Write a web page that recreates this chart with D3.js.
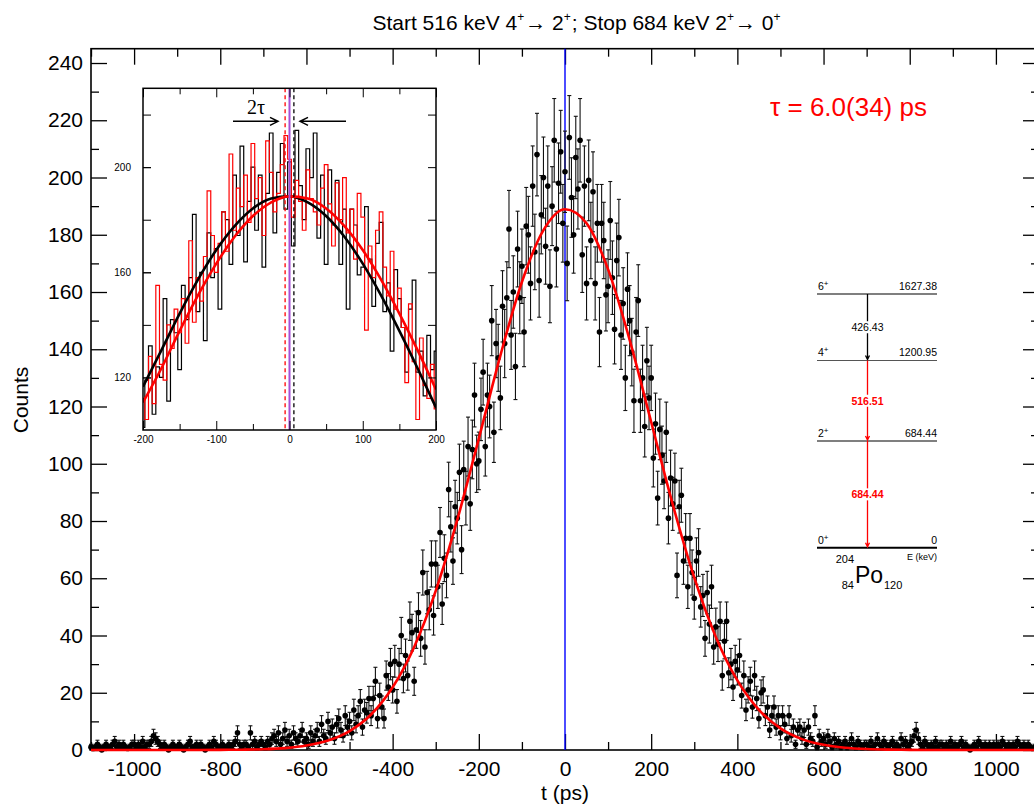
<!DOCTYPE html>
<html>
<head>
<meta charset="utf-8">
<script src="https://cdn.jsdelivr.net/npm/d3@7"></script>
<style>
  body { margin: 0; background: #fff; }
  svg { display: block; font-family: 'Liberation Sans', Arial, sans-serif; }
</style>
</head>
<body>
<div class="chart"></div>
<script>
const svgWidth = 1034,
  svgHeight = 807;

// time spectrum, 5 ps bins starting at -1100 ps
const tStart = -1100,
  binWidth = 5;

const counts = [
  1,0.5,1,2,1,0,1,2,1,1,2,3,1,2,1,2,1,0.5,1,2,
  2,1,2,1,3,1,2,2,3,5,4,3,2,1,2,1,0,1,2,1,
  1,2,1,0,1,2,3,1,1,2,1,2,1,0,1,2,1,3,2,1,
  1,2,1,1,2,1,2,3,6,2,1,2,2,1,6,2,3,1,2,3,
  2,1,3,2,4,5,3,6,2,4,7,3,5,2,6,4,3,5,7,3,
  4,2,6,3,5,7,3,9,5,4,10,6,8,4,9,11,7,5,12,8,
  10,6,14,9,12,17,8,14,13,18,12,18,24,11,19,15,11,26,22,30,
  21,31,17,30,40,25,33,26,45,41,24,42,48,39,62,36,55,49,65,47,
  65,57,76,51,67,61,91,78,66,85,81,97,70,98,88,106,86,105,124,100,
  101,119,132,106,124,120,150,111,142,137,123,155,142,158,182,145,160,134,175,158,
  169,146,183,180,163,197,174,208,164,187,200,176,197,162,190,213,175,198,209,184,
  202,170,214,193,180,207,196,213,173,197,163,199,178,195,163,184,146,184,178,159,
  162,185,165,147,171,179,145,156,130,161,150,139,122,146,157,122,130,113,136,123,
  130,102,114,88,112,103,94,111,81,95,86,94,61,85,89,66,74,57,74,62,
  53,66,69,50,54,39,55,44,57,36,43,37,45,26,38,45,27,30,22,31,
  28,33,19,26,14,21,24,15,26,18,11,20,21,12,15,7,12,15,8,12,
  6,12,9,4,12,5,8,2,7,8,4,7,2,8,4,3,12,1,5,3,
  4,2,5,3,1,4,2,3,1,2,3,1,2,4,2,1,3,2,1,2,
  2,1,3,1,2,4,2,1,3,2,1,2,3,1,2,1,4,2,3,1,
  2,3,5,7,4,2,1,3,2,1,2,1,3,1,2,2,1,2,1,3,
  1,2,1,2,3,1,2,1,0,1,2,1,3,2,1,2,1,2,1,2,
  1,2,1,3,2,1,2,1,2,1,3,2,1,2,1,2,1,0.5,1,2,1
];

// fitted curve, every 50 ps from -1100
const fitStep = 50;
const fitValues = [
  0,0,0,0,0,0.01,0.04,0.11,0.27,0.67,1.54,3.29,6.61,12.4,21.9,36.0,55.6,80.4,108.8,137.8,163.5,181.6,
  188.9,
  184.0,167.9,143.3,114.6,85.8,60.2,39.5,24.3,14.0,7.54,3.80,1.80,0.80,0.33,0.13,0.05,0.02,0,0,0,0,0
];

// inset: reversed (stop/start swapped) spectrum, 5 ps bins from -200 to 200
const insetStart = -200;
const reversedCounts = [
  112,104,128,110,155,125,119,140,131,146,
  137,150,133,172,141,158,149,166,191,174,
  160,171,183,168,205,176,192,185,197,179,
  209,188,196,174,210,198,183,190,201,212,
  203,181,195,187,176,199,188,183,178,192,
  201,186,170,194,180,196,175,184,165,190,
  181,138,170,158,176,183,162,151,168,146,
  154,139,118,148,126,104,135,117,112,125,
  108
];

// inset fit curves, every 25 ps from -200
const insetFitStep = 25;
const fitDirect = [116.5,130.3,144.3,157.2,168.5,177.6,184.3,188.1,188.9,186.6,181.4,173.5,163.3,151.2,137.7,123.4,108.5];
const fitReversed = [110.5,123.4,137.7,151.2,163.3,173.5,181.4,186.6,188.9,188.1,184.3,177.6,168.5,157.2,144.3,130.3,115.4];
const centroidShift = 6; // ps, tau

const xTicks = [-1000, -800, -600, -400, -200, 0, 200, 400, 600, 800, 1000];
const yTicks = [0, 20, 40, 60, 80, 100, 120, 140, 160, 180, 200, 220, 240];
const insetXTicks = [-200, -100, 0, 100, 200];
const insetYTicks = [120, 160, 200];

// level scheme of 204Po
const levelSpins = ['6', '4', '2', '0'];
const levelEnergies = [1627.38, 1200.95, 684.44, 0];
const gammaLabels = ['426.43', '516.51', '684.44'];

const svg = d3.select('.chart')
  .append('svg')
  .attr('width', svgWidth)
  .attr('height', svgHeight);

const xScale = d3.scaleLinear()
  .domain([-1100, 1100])
  .range([91, 1039]);

const yScale = d3.scaleLinear()
  .domain([0, 245])
  .range([750, 48.7]);

const tickFont = '21px "Liberation Sans", Arial, sans-serif';

function tickAxis(axis, transform, values, size, labels) {
  const g = svg.append('g')
    .attr('transform', transform)
    .call(axis.tickValues(values).tickSize(-size).tickPadding(labels ? 10 : 0)
      .tickFormat(labels ? d => String(d) : ''))
    .style('font', tickFont);
  g.select('.domain').remove();
  g.selectAll('line').attr('stroke-width', 1.3);
  return g;
}

const xMinor = d3.range(-1100, 1101, 100).filter(d => !xTicks.includes(d));
const yMinor = d3.range(10, 245, 20);

tickAxis(d3.axisBottom(xScale), `translate(0, ${yScale(0)})`, xTicks, 16, true)
  .selectAll('text').attr('dy', '0.78em');
tickAxis(d3.axisBottom(xScale), `translate(0, ${yScale(0)})`, xMinor, 8, false);
tickAxis(d3.axisTop(xScale), `translate(0, ${yScale(245)})`, xTicks, 16, false);
tickAxis(d3.axisTop(xScale), `translate(0, ${yScale(245)})`, xMinor, 8, false);
tickAxis(d3.axisLeft(yScale), `translate(${xScale(-1100)}, 0)`, yTicks, 16, true)
  .selectAll('text').attr('x', -8);
tickAxis(d3.axisLeft(yScale), `translate(${xScale(-1100)}, 0)`, yMinor, 8, false);
tickAxis(d3.axisRight(yScale), `translate(${xScale(1100)}, 0)`, yTicks, 16, false);
tickAxis(d3.axisRight(yScale), `translate(${xScale(1100)}, 0)`, yMinor, 8, false);

svg.append('rect')
  .attr('x', xScale(-1100))
  .attr('y', yScale(245))
  .attr('width', xScale(1100) - xScale(-1100))
  .attr('height', yScale(0) - yScale(245))
  .attr('fill', 'none')
  .attr('stroke', '#000')
  .attr('stroke-width', 1.6);

// axis titles
svg.append('text')
  .attr('x', 565)
  .attr('y', 800)
  .attr('text-anchor', 'middle')
  .style('font', tickFont)
  .text('t (ps)');

svg.append('text')
  .attr('transform', 'translate(28, 400) rotate(-90)')
  .attr('text-anchor', 'middle')
  .style('font', tickFont)
  .text('Counts');

// title: each piece is its own text so superscripts sit cleanly
const titleParts = [
  { t: 'Start 516 keV 4' }, { t: '+', sup: true }, { t: '\u2192 2' }, { t: '+', sup: true },
  { t: '; Stop 684 keV 2' }, { t: '+', sup: true }, { t: '\u2192 0' }, { t: '+', sup: true }
];
const titleG = svg.append('g');
let titleX = 0;
titleParts.forEach(p => {
  const t = titleG.append('text')
    .attr('x', titleX)
    .attr('y', p.sup ? 21 : 30)
    .style('font-size', p.sup ? '12px' : '21px')
    .text(p.t);
  titleX += t.node().getComputedTextLength() + (p.sup ? 1 : 0);
});
titleG.attr('transform', `translate(${577 - titleX / 2}, 0)`);

// t = 0 reference line
svg.append('line')
  .attr('x1', xScale(0)).attr('x2', xScale(0))
  .attr('y1', yScale(245)).attr('y2', yScale(0))
  .attr('stroke', '#0000ff')
  .attr('stroke-width', 1.4);

const points = counts.map((c, i) => ({ t: tStart + i * binWidth, c: c, e: Math.sqrt(c) }));

const fitPoints = fitValues.map((v, i) => [-1100 + i * fitStep, v]);

// error bars
const bars = svg.append('g').attr('stroke', '#111').attr('stroke-width', 1.1);
bars.selectAll('.eb')
  .data(points)
  .join('line')
  .attr('x1', d => xScale(d.t)).attr('x2', d => xScale(d.t))
  .attr('y1', d => yScale(Math.max(0, d.c - d.e))).attr('y2', d => yScale(d.c + d.e));
bars.selectAll('.cap-top')
  .data(points)
  .join('line')
  .attr('x1', d => xScale(d.t) - 2).attr('x2', d => xScale(d.t) + 2)
  .attr('y1', d => yScale(d.c + d.e)).attr('y2', d => yScale(d.c + d.e));
bars.selectAll('.cap-bot')
  .data(points)
  .join('line')
  .attr('x1', d => xScale(d.t) - 2).attr('x2', d => xScale(d.t) + 2)
  .attr('y1', d => yScale(Math.max(0, d.c - d.e))).attr('y2', d => yScale(Math.max(0, d.c - d.e)));

svg.append('g')
  .selectAll('circle')
  .data(points)
  .join('circle')
  .attr('cx', d => xScale(d.t))
  .attr('cy', d => yScale(d.c))
  .attr('r', 2.8)
  .attr('fill', '#000');

svg.append('path')
  .datum(fitPoints)
  .attr('fill', 'none')
  .attr('stroke', '#ff0000')
  .attr('stroke-width', 2.6)
  .attr('d', d3.line().x(d => xScale(d[0])).y(d => yScale(d[1])).curve(d3.curveMonotoneX));

svg.append('text')
  .attr('x', 770)
  .attr('y', 116)
  .attr('fill', '#ff0000')
  .style('font-size', '26px')
  .text('\u03c4 = 6.0(34) ps');

// ---------- inset ----------
const ix = d3.scaleLinear().domain([-200, 200]).range([143, 436]);
const iy = d3.scaleLinear().domain([100, 230]).range([430, 88.3]);
const inset = svg.append('g');

inset.append('rect')
  .attr('x', 143).attr('y', 88.3)
  .attr('width', 293).attr('height', 430 - 88.3)
  .attr('fill', '#fff');

svg.append('clipPath').attr('id', 'inset-clip')
  .append('rect')
  .attr('x', 143).attr('y', 88.3)
  .attr('width', 293).attr('height', 430 - 88.3);

const plotArea = inset.append('g').attr('clip-path', 'url(#inset-clip)');

const stepLine = d3.line()
  .x(d => ix(d[0]))
  .y(d => iy(d[1]))
  .curve(d3.curveStepAfter);

function histo(data) {
  const pts = data.map(d => [d[0] - binWidth / 2, d[1]]);
  const last = data[data.length - 1];
  pts.push([last[0] + binWidth / 2, last[1]]);
  return pts;
}

// direct spectrum around the peak (same data as the main plot)
const directInset = points.filter(p => p.t >= -205 && p.t <= 205).map(p => [p.t, p.c]);
const reversedInset = reversedCounts.map((c, i) => [insetStart + i * binWidth, c]);

plotArea.append('path')
  .datum(histo(directInset))
  .attr('fill', 'none').attr('stroke', '#000').attr('stroke-width', 1.2)
  .attr('d', stepLine);

plotArea.append('path')
  .datum(histo(reversedInset))
  .attr('fill', 'none').attr('stroke', '#ff0000').attr('stroke-width', 1.2)
  .attr('d', stepLine);

const smooth = d3.line().x(d => ix(d[0])).y(d => iy(d[1])).curve(d3.curveMonotoneX);

plotArea.append('path')
  .datum(fitDirect.map((v, i) => [-200 + i * insetFitStep, v]))
  .attr('fill', 'none').attr('stroke', '#000').attr('stroke-width', 2.6)
  .attr('d', smooth);

plotArea.append('path')
  .datum(fitReversed.map((v, i) => [-200 + i * insetFitStep, v]))
  .attr('fill', 'none').attr('stroke', '#ff0000').attr('stroke-width', 2.6)
  .attr('d', smooth);

// centroid markers
[[-centroidShift, '#ff0000', '4,3', 1.3], [0, '#a64fd6', null, 2], [centroidShift, '#000', '4,3', 1.3]]
  .forEach(([t, col, dash, w]) => {
    plotArea.append('line')
      .attr('x1', ix(t)).attr('x2', ix(t))
      .attr('y1', 88.3).attr('y2', 430)
      .attr('stroke', col)
      .attr('stroke-width', w)
      .attr('stroke-dasharray', dash);
  });

// 2 tau arrows
const arrowY = 121.3;
function arrow(x1, x2) {
  const dir = Math.sign(x2 - x1);
  inset.append('path')
    .attr('d', `M${x1},${arrowY}H${x2}M${x2 - dir * 8},${arrowY - 4}L${x2},${arrowY}L${x2 - dir * 8},${arrowY + 4}`)
    .attr('fill', 'none').attr('stroke', '#000').attr('stroke-width', 1.5);
}
arrow(233, 278);
arrow(346, 300);

inset.append('text')
  .attr('x', 256).attr('y', 114)
  .attr('text-anchor', 'middle')
  .style('font', '20px "Liberation Serif", "Times New Roman", serif')
  .text('2\u03c4');

const insetFont = '10px "Liberation Sans", Arial, sans-serif';
function insetAxis(axis, transform, values, size, labels) {
  const g = inset.append('g')
    .attr('transform', transform)
    .call(axis.tickValues(values).tickSize(-size).tickPadding(labels ? 6 : 0)
      .tickFormat(labels ? d => String(d) : ''))
    .style('font', insetFont);
  g.select('.domain').remove();
  return g;
}
const insetXMinor = [-150, -50, 50, 150];
const insetYAll = d3.range(120, 230, 20);

insetAxis(d3.axisBottom(ix), 'translate(0, 430)', insetXTicks, 9, true);
insetAxis(d3.axisBottom(ix), 'translate(0, 430)', insetXMinor, 6, false);
insetAxis(d3.axisTop(ix), 'translate(0, 88.3)', insetXTicks, 9, false);
insetAxis(d3.axisTop(ix), 'translate(0, 88.3)', insetXMinor, 6, false);
insetAxis(d3.axisLeft(iy), 'translate(143, 0)', insetYAll, 8, false);
insetAxis(d3.axisLeft(iy), 'translate(143, 0)', insetYTicks, 8, true)
  .selectAll('text').attr('x', -12);
insetAxis(d3.axisRight(iy), 'translate(436, 0)', insetYAll, 8, false);

inset.append('rect')
  .attr('x', 143).attr('y', 88.3)
  .attr('width', 293).attr('height', 430 - 88.3)
  .attr('fill', 'none').attr('stroke', '#000').attr('stroke-width', 1.5);

// ---------- level scheme ----------
const eScale = d3.scaleLinear().domain([0, 1627.38]).range([547.7, 294]);
const lvlX1 = 817, lvlX2 = 937, gX = 867.5;
const scheme = svg.append('g').style('font-size', '10.5px');

levelEnergies.forEach((e, i) => {
  const ly = eScale(e);
  scheme.append('line')
    .attr('x1', lvlX1).attr('x2', lvlX2)
    .attr('y1', ly).attr('y2', ly)
    .attr('stroke', i === 1 ? '#555' : '#000')
    .attr('stroke-width', e === 0 ? 2 : 1.2);
  const lab = scheme.append('text').attr('x', lvlX1 + 1).attr('y', ly - 4);
  lab.append('tspan').text(levelSpins[i]);
  lab.append('tspan').attr('dy', -4).style('font-size', '8px').text('+');
  scheme.append('text')
    .attr('x', lvlX2).attr('y', ly - 4)
    .attr('text-anchor', 'end')
    .text(e === 0 ? '0' : e.toFixed(2));
});

gammaLabels.forEach((g, i) => {
  const y1 = eScale(levelEnergies[i]), y2 = eScale(levelEnergies[i + 1]);
  const col = i === 0 ? '#000' : '#ff0000';
  scheme.append('path')
    .attr('d', `M${gX},${y1}V${y2 - 1}M${gX - 2},${y2 - 5}L${gX},${y2 - 1}L${gX + 2},${y2 - 5}`)
    .attr('fill', 'none').attr('stroke', col).attr('stroke-width', 1.3);
  const my = (y1 + y2) / 2;
  scheme.append('rect')
    .attr('x', gX - 17).attr('y', my - 6)
    .attr('width', 34).attr('height', 12)
    .attr('fill', '#fff');
  scheme.append('text')
    .attr('x', gX).attr('y', my + 4)
    .attr('text-anchor', 'middle')
    .attr('fill', col)
    .style('font-weight', i === 0 ? 'normal' : 'bold')
    .text(g);
});

scheme.append('text')
  .attr('x', lvlX2).attr('y', 560)
  .attr('text-anchor', 'end')
  .style('font-size', '9px')
  .text('E (keV)');

const nuc = svg.append('g');
nuc.append('text').attr('x', 854).attr('y', 563).attr('text-anchor', 'end')
  .style('font-size', '11px').text('204');
nuc.append('text').attr('x', 854).attr('y', 589).attr('text-anchor', 'end')
  .style('font-size', '11px').text('84');
nuc.append('text').attr('x', 855).attr('y', 583)
  .style('font-size', '23px').text('Po');
nuc.append('text').attr('x', 884).attr('y', 589)
  .style('font-size', '11px').text('120');
</script>
</body>
</html>
